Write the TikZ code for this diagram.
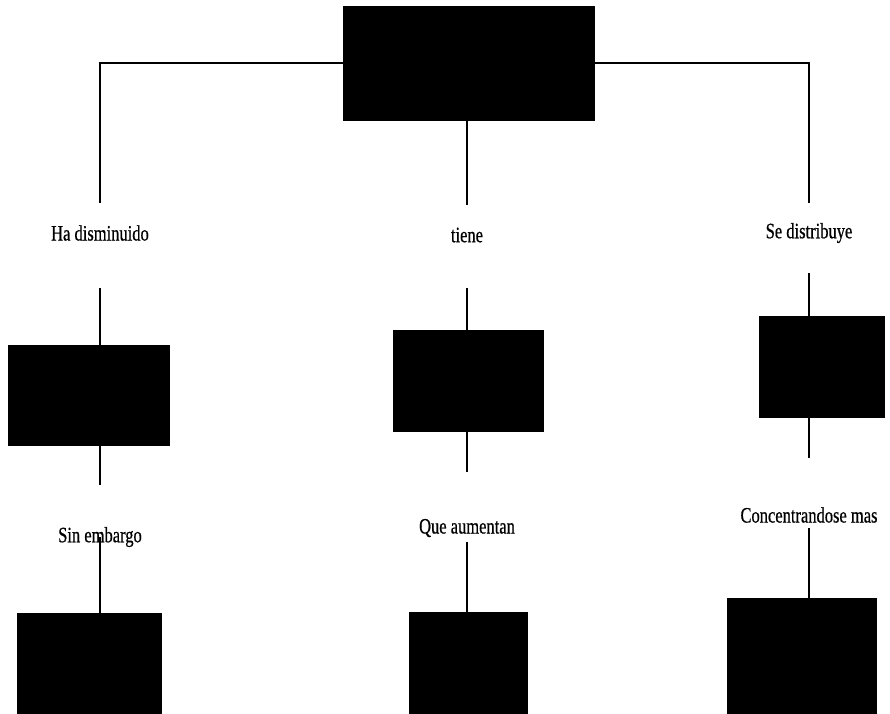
\documentclass[tikz,border=0pt]{standalone}
\usepackage{fontspec}
\setmainfont[FakeStretch=0.75, FakeBold=0.6]{Liberation Serif}
\tikzset{
  concept/.style = {shape=rectangle, draw, fill=black, inner sep=0pt},
  link/.style    = {inner sep=0pt, font=\fontsize{22}{24}\selectfont},
  branch/.style  = {draw, line width=1.5pt}
}

\begin{document}
\begin{tikzpicture}[x=1pt, y=-1pt]
\useasboundingbox (0,0) rectangle (890,713);

% boxes
\node[concept, minimum width=251pt, minimum height=114pt] (root) at (468.5,63) {};
\node[concept, minimum width=161pt, minimum height=100pt] (b1) at (88.5,395) {};
\node[concept, minimum width=150pt, minimum height=101pt] (b2) at (468,380.5) {};
\node[concept, minimum width=125pt, minimum height=101pt] (b3) at (821.5,366.5) {};
\node[concept, minimum width=144pt, minimum height=100pt] (b4) at (89,663) {};
\node[concept, minimum width=118pt, minimum height=101pt] (b5) at (468,662.5) {};
\node[concept, minimum width=149pt, minimum height=115pt] (b6) at (801.5,655.5) {};

% linking words
\node[link] (l1) at (100,233) {Ha disminuido};
\node[link] (l2) at (467,235) {tiene};
\node[link] (l3) at (809,233) {Se distribuye};
\node[link] (l4) at (100,537) {Sin embargo};
\node[link] (l5) at (467,528) {Que aumentan};
\node[link] (l6) at (809,515) {Concentrandose mas};

% first level
\draw[branch, shorten >=30pt] (root.west) -| (l1.center);
\draw[branch, shorten >=30pt] (l2 |- root.south) -- (l2.center);
\draw[branch, shorten >=30pt] (root.east) -| (l3.center);
\draw[branch, shorten <=55pt] (l1.center) -- (l1 |- b1.north);
\draw[branch, shorten <=53pt] (l2.center) -- (l2 |- b2.north);
\draw[branch, shorten <=40pt] (l3.center) -- (l3 |- b3.north);

% second level
\draw[branch, shorten >=52pt] (l1 |- b1.south) -- (l4.center);
\draw[branch] (l4.center) -- (l4 |- b4.north);
\draw[branch, shorten >=56pt] (l2 |- b2.south) -- (l5.center);
\draw[branch, shorten <=14pt] (l5.center) -- (l5 |- b5.north);
\draw[branch, shorten >=57pt] (l3 |- b3.south) -- (l6.center);
\draw[branch, shorten <=13pt] (l6.center) -- (l6 |- b6.north);
\end{tikzpicture}
\end{document}
